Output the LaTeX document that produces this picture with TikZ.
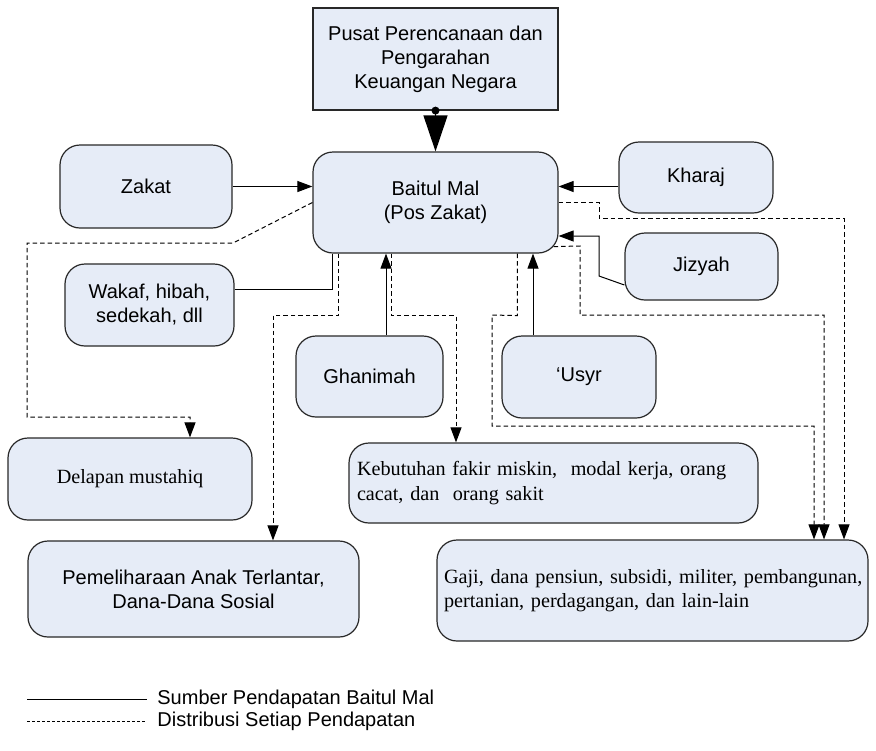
\documentclass[tikz,border=0pt]{standalone}
\usepackage{fontspec}
\setmainfont{Liberation Serif}
\setsansfont{Liberation Sans}
\usetikzlibrary{arrows.meta,calc}
\definecolor{boxfill}{RGB}{230,236,247}
\definecolor{edge}{RGB}{40,40,40}
\begin{document}
\begin{tikzpicture}[x=0.5pt,y=-0.5pt,
  base/.style={draw=edge, line width=0.6pt, fill=boxfill, inner sep=0pt,
    font=\sffamily\fontsize{10}{12}\selectfont, align=center},
  rbox/.style={base, rounded corners=10pt},
  sbox/.style={base},
  serif/.style={font=\rmfamily\fontsize{10.1}{12.2}\selectfont},
  src/.style={draw=black, line width=0.5pt, -{Triangle[length=7.5pt,width=5.5pt]}},
  plain/.style={draw=black, line width=0.5pt},
  dist/.style={draw=black, line width=0.5pt, dash pattern=on 2.25pt off 1.5pt,
    -{Triangle[length=7.5pt,width=5.5pt]}},
  legtext/.style={anchor=west, inner sep=0pt, font=\sffamily\fontsize{10}{12}\selectfont},
]
\useasboundingbox (0,0) rectangle (876,750);

% boxes
\node[sbox, minimum width=122.5pt, minimum height=51pt] (pusat) at (435.5,59)
  {Pusat Perencanaan dan\\Pengarahan\\Keuangan Negara};
\node[rbox, minimum width=122.5pt, minimum height=50.5pt] (baitul) at (435.5,202.5)
  {Baitul Mal\\(Pos Zakat)};
\node[rbox, minimum width=86pt, minimum height=41.5pt] (zakat) at (146,186.5) {Zakat};
\node[rbox, minimum width=77pt, minimum height=35.5pt] (kharaj) at (696,177.5) {Kharaj};
\node[rbox, minimum width=76.5pt, minimum height=33.5pt] (jizyah) at (701.5,266.5) {Jizyah};
\node[rbox, minimum width=84.5pt, minimum height=41pt] (wakaf) at (149.5,305)
  {Wakaf, hibah,\\sedekah, dll};
\node[rbox, minimum width=73.5pt, minimum height=40.5pt] (ghanimah) at (369.5,376.5) {Ghanimah};
\node[rbox, minimum width=77pt, minimum height=41pt] (usyr) at (579,377) {‘Usyr};
\node[rbox, serif, minimum width=122pt, minimum height=41pt] (delapan) at (130,479)
  {\raisebox{3pt}{Delapan mustahiq}};
\node[rbox, minimum width=165.5pt, minimum height=48pt] (pemel) at (193.5,589)
  {Pemeliharaan Anak Terlantar,\\Dana-Dana Sosial};
\node[rbox, serif, text width=196.5pt, inner xsep=4pt, align=left, minimum height=40pt]
  (kebut) at (553.5,483)
  {\mbox{Kebutuhan fakir miskin,\ \ modal kerja, orang}\\\mbox{cacat, dan\ \ orang sakit}};
\node[rbox, serif, text width=208.5pt, inner xsep=3.5pt, align=left, minimum height=50.5pt]
  (gaji) at (652.5,590.5)
  {\mbox{Gaji, dana pensiun, subsidi, militer, pembangunan,}\\\mbox{pertanian, perdagangan, dan lain-lain}};

% central arrow
\draw[line width=0.6pt, -{Triangle[length=18pt,width=12pt]}] (pusat.south) -- (baitul.north);
\fill (pusat.south) circle (2pt);

% income sources
\draw[src] (zakat.east) -- (zakat.east -| baitul.west);
\draw[src] (kharaj.west |- zakat.east) -- (baitul.east |- zakat.east);
\draw[src] ([yshift=-9.25pt]jizyah.west) -- (599,276) -- (599,236) -- (baitul.east |- 599,236);
\draw[plain] ([yshift=8pt]wakaf.east) -| ($(baitul.south west)+(20,0)$);
\draw[src] ([xshift=8.25pt]ghanimah.north) coordinate (g1) -- (g1 |- baitul.south);
\draw[src] ([xshift=-23pt]usyr.north) coordinate (u1) -- (u1 |- baitul.south);

% distribution
\draw[dist] (baitul.west) -- (233,243) -- (27,243) -- (27,417) -| ([xshift=30pt]delapan.north);
\draw[dist] ($(baitul.south west)+(26,0)$) -- ++(0,62) -| ([xshift=39.75pt]pemel.north);
\draw[dist] ($(baitul.south west)+(79,0)$) -- ++(0,62) -| ([xshift=-48.75pt]kebut.north);
\draw[dist] ($(baitul.south west)+(205,0)$) -- ++(0,62) -- (492,315) -- (492,426)
  -| ([xshift=80.75pt]gaji.north);
\draw[dist] ($(baitul.south east)+(-5,-7)$) -- (580,246) -- (580,315)
  -| ([xshift=85.75pt]gaji.north);
\draw[dist] (baitul.east) -- (599,202.5) -- (599,218) -| ([xshift=95.75pt]gaji.north);

% legend
\node[legtext] (leg1) at (157,699) {Sumber Pendapatan Baitul Mal};
\node[legtext] (leg2) at (157,721) {Distribusi Setiap Pendapatan};
\draw[plain] ($(leg1.west)+(-130,0)$) -- ($(leg1.west)+(-10,0)$);
\draw[plain, dash pattern=on 1.5pt off 1pt] ($(leg2.west)+(-130,0)$) -- ($(leg2.west)+(-10,0)$);
\end{tikzpicture}
\end{document}
